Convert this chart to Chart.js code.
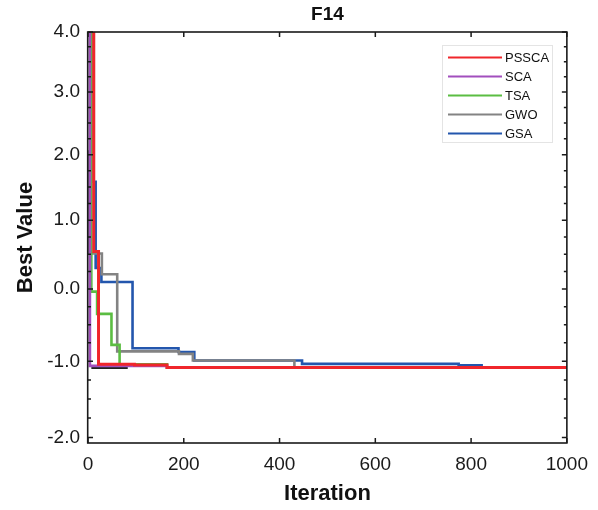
<!DOCTYPE html>
<html>
<head>
<meta charset="utf-8">
<script src="https://cdn.jsdelivr.net/npm/chart.js@4/dist/chart.umd.min.js"></script>
<style>
  html, body { margin: 0; padding: 0; background: #fff; }
  canvas { display: block; }
</style>
</head>
<body>
<canvas id="c" width="598" height="510"></canvas>
<script>
// ---------- data ----------
const SERIES_NAMES = ['PSSCA', 'SCA', 'TSA', 'GWO', 'GSA'];

const PSSCA_ITER = [0, 12, 22, 97, 165, 1000];
const PSSCA_VAL  = [6, 0.54, -1.04, -1.05, -1.085, -1.085];

const SCA_ITER = [0, 4, 165, 1000];
const SCA_VAL  = [6, -1.062, -1.08, -1.08];

const TSA_ITER = [0, 7, 19, 49, 66, 165, 1000];
const TSA_VAL  = [6, -0.037, -0.35, -0.778, -1.04, -1.085, -1.085];

const GWO_ITER = [0, 2, 29, 61, 190, 219, 431, 1000];
const GWO_VAL  = [2.05, 0.51, 0.21, -0.866, -0.90, -0.99, -1.08, -1.085];

const GSA_ITER = [0, 12, 16, 28, 93, 189, 222, 447, 774, 822, 1000];
const GSA_VAL  = [6, 1.58, 0.30, 0.10, -0.823, -0.875, -0.99, -1.035, -1.055, -1.085, -1.085];

const EXTRA_ITER = [7, 83];          // short black segment (no legend entry)
const EXTRA_VAL  = [-1.09, -1.09];

const X_TICKS = [0, 200, 400, 600, 800, 1000];
const Y_TICKS = [-2, -1, 0, 1, 2, 3, 4];
const Y_MINOR_STEP = 0.25;

const COLORS = ['#f0262b', '#a24fbd', '#5bbd42', '#838383', '#2356ad'];

// ---------- custom shifted-log value scale (matches the reference's axis spacing) ----------
const SHIFT = 20;
class ShiftLogScale extends Chart.LinearScale {
  configure() {
    super.configure();
    this._la = Math.log(this.min + SHIFT);
    this._lb = Math.log(this.max + SHIFT) - this._la;
  }
  getPixelForValue(value) {
    if (value === null || value === undefined || isNaN(value)) return NaN;
    return this.getPixelForDecimal((Math.log(value + SHIFT) - this._la) / this._lb);
  }
  getValueForPixel(pixel) {
    return Math.exp(this.getDecimalForPixel(pixel) * this._lb + this._la) - SHIFT;
  }
}
ShiftLogScale.id = 'shiftlog';
ShiftLogScale.defaults = Chart.LinearScale.defaults;
Chart.register(ShiftLogScale);

function pts(xs, ys) { return xs.map((x, i) => ({ x: x, y: ys[i] })); }

const seriesIters = [PSSCA_ITER, SCA_ITER, TSA_ITER, GWO_ITER, GSA_ITER];
const seriesVals  = [PSSCA_VAL, SCA_VAL, TSA_VAL, GWO_VAL, GSA_VAL];

const datasets = SERIES_NAMES.map((name, i) => ({
  label: name,
  data: pts(seriesIters[i], seriesVals[i]),
  borderColor: COLORS[i],
  backgroundColor: COLORS[i],
  borderWidth: i === 0 ? 3 : 2.6,
  pointRadius: 0,
  stepped: 'before',
  fill: false
}));
datasets.push({
  label: '',
  data: pts(EXTRA_ITER, EXTRA_VAL),
  borderColor: '#222222',
  borderWidth: 2,
  pointRadius: 0,
  stepped: 'before',
  fill: false
});

const FONT = "'Liberation Sans', Arial, Helvetica, sans-serif";

// frame, inward ticks, title, legend
const decorPlugin = {
  id: 'decor',
  afterDatasetsDraw(chart) {
    const { ctx, chartArea: a, scales: { x, y } } = chart;
    ctx.save();
    ctx.strokeStyle = '#1a1a1a';
    // ticks
    ctx.lineWidth = 1.5;
    ctx.beginPath();
    X_TICKS.forEach(v => {
      const px = x.getPixelForValue(v);
      ctx.moveTo(px, a.bottom); ctx.lineTo(px, a.bottom - 5);
      ctx.moveTo(px, a.top); ctx.lineTo(px, a.top + 5);
    });
    Y_TICKS.forEach(v => {
      const py = y.getPixelForValue(v);
      ctx.moveTo(a.left, py); ctx.lineTo(a.left + 5, py);
      ctx.moveTo(a.right, py); ctx.lineTo(a.right - 5, py);
    });
    ctx.stroke();
    ctx.beginPath();
    for (let v = Y_TICKS[0]; v <= Y_TICKS[Y_TICKS.length - 1] + 1e-9; v += Y_MINOR_STEP) {
      if (Math.abs(v - Math.round(v)) < 1e-6) continue;
      if (v < y.min || v > y.max) continue;
      const py = y.getPixelForValue(v);
      ctx.moveTo(a.left, py); ctx.lineTo(a.left + 3, py);
      ctx.moveTo(a.right, py); ctx.lineTo(a.right - 3, py);
    }
    ctx.stroke();
    // frame
    ctx.lineWidth = 1.6;
    ctx.strokeRect(a.left - 0.3, a.top, a.right - a.left + 0.3, a.bottom - a.top);

    // title
    ctx.fillStyle = '#111';
    ctx.font = 'bold 19px ' + FONT;
    ctx.textAlign = 'center';
    ctx.textBaseline = 'middle';
    ctx.fillText('F14', (a.left + a.right) / 2, 15);

    // legend
    const lx = 442, ly = 45, lw = 110, lh = 97;
    ctx.fillStyle = '#ffffff';
    ctx.fillRect(lx, ly, lw, lh);
    ctx.strokeStyle = '#e4e4e4';
    ctx.lineWidth = 1;
    ctx.strokeRect(lx + 0.5, ly + 0.5, lw, lh);
    ctx.font = '13px ' + FONT;
    ctx.textAlign = 'left';
    SERIES_NAMES.forEach((name, i) => {
      const yy = 57.5 + i * 19;
      ctx.strokeStyle = COLORS[i];
      ctx.lineWidth = 2;
      ctx.beginPath();
      ctx.moveTo(448, yy); ctx.lineTo(502, yy);
      ctx.stroke();
      ctx.fillStyle = '#111';
      ctx.fillText(name, 505, yy + 0.5);
    });
    ctx.restore();
  }
};

new Chart(document.getElementById('c'), {
  type: 'line',
  data: { datasets: datasets },
  options: {
    responsive: false,
    animation: false,
    events: [],
    layout: { padding: { top: 32, right: 30, left: 0, bottom: 0 } },
    plugins: { legend: { display: false }, tooltip: { enabled: false }, title: { display: false } },
    scales: {
      x: {
        type: 'linear',
        min: 0, max: 1000,
        afterFit(s) { s.height = 67; },
        afterBuildTicks(s) { s.ticks = X_TICKS.map(v => ({ value: v })); },
        grid: { display: false, drawTicks: false },
        border: { display: false },
        ticks: {
          autoSkip: false, maxRotation: 0, padding: 10,
          color: '#1a1a1a',
          font: { family: FONT, size: 19 },
          callback: v => String(v)
        },
        title: {
          display: true, text: 'Iteration', color: '#111',
          font: { family: FONT, size: 22, weight: 'bold', lineHeight: 1.2 },
          padding: { top: 0, bottom: 3 }
        }
      },
      y: {
        type: 'shiftlog',
        min: -2.07, max: 4.0,
        afterFit(s) { s.width = 88; },
        afterBuildTicks(s) { s.ticks = Y_TICKS.map(v => ({ value: v })); },
        grid: { display: false, drawTicks: false },
        border: { display: false },
        ticks: {
          autoSkip: false, padding: 8,
          color: '#1a1a1a',
          font: { family: FONT, size: 19 },
          callback: v => Number(v).toFixed(1)
        },
        title: {
          display: true, text: 'Best Value', color: '#111',
          font: { family: FONT, size: 22, weight: 'bold', lineHeight: 1.2 },
          padding: { top: 13, bottom: 0 }
        }
      }
    }
  },
  plugins: [decorPlugin]
});
</script>
</body>
</html>
